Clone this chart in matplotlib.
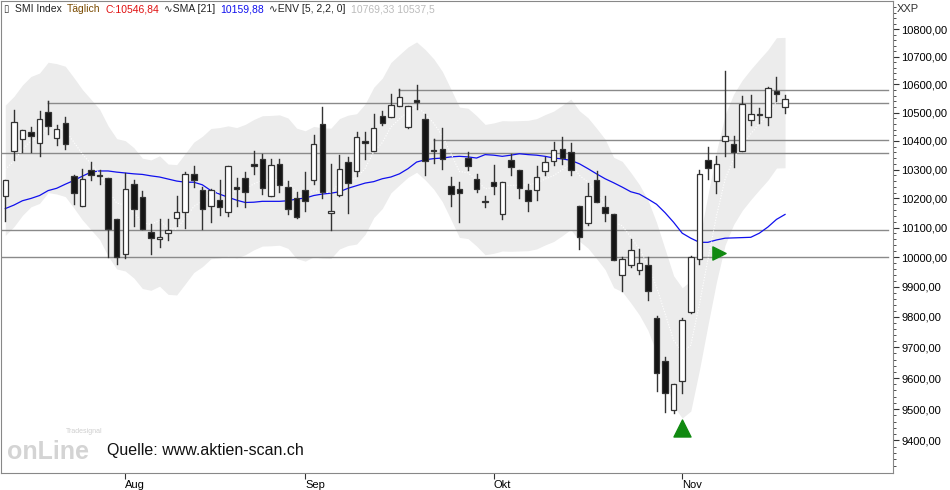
import matplotlib
matplotlib.use("Agg")
import matplotlib.pyplot as plt
from matplotlib.ticker import FixedLocator, FuncFormatter, NullFormatter
import numpy as np

opens = [10207,10365,10406,10433,10393,10501,10410,10463,10276,10174,10297,10282,10270,10128,10009,10250,10204,10085,10060,10081,
         10134,10155,10285,10229,10174,10194,10155,10239,10270,10320,10337,10207,10319,10239,10201,10230,10265,10460,10149,10212,
         10326,10295,10400,10365,10487,10484,10525,10449,10544,10476,10367,10373,10242,10231,10340,10268,10192,10258,10145,10332,
         10297,10230,10230,10295,10329,10373,10361,10174,10116,10265,10172,10145,9941,9974,9955,9974,9798,9656,9497,9591,
         9817,9995,10333,10260,10401,10390,10366,10474,10491,10484,10577,10521]
highs = [10262,10509,10438,10449,10507,10540,10455,10484,10280,10303,10326,10300,10270,10128,10288,10262,10225,10114,10128,10128,
         10209,10291,10311,10239,10233,10262,10314,10270,10291,10363,10353,10338,10338,10259,10221,10291,10422,10519,10318,10349,
         10344,10431,10433,10495,10507,10565,10585,10525,10597,10495,10408,10445,10274,10258,10361,10285,10209,10317,10256,10355,
         10297,10250,10312,10344,10396,10414,10393,10174,10253,10295,10207,10145,10000,10060,10028,10000,9804,9668,9582,9798,
         10003,10299,10378,10348,10647,10418,10560,10562,10517,10590,10627,10562]
lows = [10122,10334,10361,10361,10347,10425,10385,10371,10180,10174,10262,10250,9999,9976,9997,10104,10096,10011,10034,10058,
        10107,10099,10239,10096,10120,10143,10140,10174,10172,10283,10215,10207,10221,10145,10134,10157,10250,10200,10093,10210,
        10151,10276,10338,10365,10455,10484,10525,10445,10513,10280,10324,10303,10174,10118,10297,10221,10172,10215,10130,10280,
        10200,10157,10195,10280,10315,10320,10280,10029,10110,10186,10122,9989,9886,9968,9944,9857,9558,9491,9488,9552,
        9812,9978,10268,10218,10348,10308,10364,10457,10464,10457,10542,10498]
closes = [10262,10466,10438,10418,10477,10451,10443,10389,10218,10268,10280,10277,10095,9999,10233,10163,10096,10066,10067,10093,
          10155,10285,10262,10165,10230,10169,10314,10233,10221,10313,10236,10317,10245,10165,10137,10192,10390,10223,10157,10303,
          10254,10414,10394,10446,10463,10527,10557,10525,10536,10330,10363,10338,10215,10219,10312,10233,10186,10242,10256,10309,
          10236,10190,10274,10326,10367,10340,10299,10067,10209,10186,10149,9989,9995,10023,9981,9885,9615,9550,9582,9789,
          10000,10285,10306,10320,10418,10360,10530,10495,10495,10588,10566,10547]
sma21 = [10165,10177,10192,10200,10210,10227,10235,10249,10262,10277,10291,10295,10295,10291,10288,10285,10283,10278,10274,10267,
         10260,10256,10256,10247,10227,10215,10204,10194,10186,10187,10190,10190,10190,10192,10198,10201,10210,10215,10218,10223,
         10235,10244,10253,10258,10268,10274,10285,10303,10326,10334,10338,10340,10344,10346,10344,10340,10352,10350,10346,10350,
         10355,10352,10350,10346,10340,10337,10332,10320,10303,10285,10268,10254,10239,10223,10215,10198,10180,10151,10118,10081,
         10064,10050,10050,10058,10064,10065,10066,10067,10081,10102,10128,10145]
env_mid = [10300,10330,10370,10400,10412,10450,10445,10436,10396,10354,10320,10286,10228,10184,10177,10153,10117,10111,10125,10097,
           10095,10133,10172,10192,10219,10222,10228,10222,10233,10250,10263,10264,10266,10255,10220,10211,10226,10221,10220,10253,
           10265,10270,10304,10362,10394,10449,10477,10504,10522,10495,10462,10418,10356,10293,10289,10263,10233,10238,10246,10245,
           10246,10247,10253,10267,10279,10299,10321,10280,10256,10220,10182,10120,10106,10068,10027,9975,9900,9811,9723,9684,
           9707,9841,9992,10140,10266,10338,10387,10425,10460,10494,10537,10538]
env_pct = 2.2
hlines = [10580, 10534, 10403, 10358, 10093, 10000]
hline_start = [46, 5, 50, None, None, None]
month_labels = ["Aug", "Sep", "Okt", "Nov"]
month_idx = [14, 35, 57, 79]
buy_idx, buy_price = 79, 9440
sig_idx, sig_price = 83, 10015
yticks = list(range(9400, 10801, 100))
title_parts = [("SMI Index", '#222'), ("Täglich", '#7a4a00'), ("C:10546,84", '#e01010'),
               ("∿SMA [21]", '#222'), ("10159,88", '#1010ee'),
               ("∿ENV [5, 2,2, 0]", '#222'), ("10769,33 10537,5", '#bbbbbb')]

plt.rcParams['font.family'] = ['Liberation Sans', 'DejaVu Sans']
W, H = 950, 490
fig = plt.figure(figsize=(W/100, H/100), dpi=100)
ax = fig.add_axes([1/W, 1-473/H, 892/W, 472/H])
ax.set_yscale('log')
x = np.arange(len(closes))
ax.set_xlim(-0.5, 103.6)
ax.set_ylim(9297, 10903)

mid = np.array(env_mid, float)
ax.fill_between(x, mid*(1-env_pct/100), mid*(1+env_pct/100), color='#ececec', lw=0, zorder=1)

for y, s in zip(hlines, hline_start):
    xs = -0.5 if s is None else s
    ax.plot([xs, 103.0], [y, y], color='#8a8a8a', lw=1, zorder=2)
    if s is not None:
        ax.plot([s, s], [highs[s], y], color='#8a8a8a', lw=1, zorder=2)

ax.plot(x, sma21, color='#1010ee', lw=0.9, zorder=3)
ax.plot(x, env_mid, color='white', lw=0.8, ls=(0, (1, 1.5)), zorder=3)

for i in x:
    o, h, l, c = opens[i], highs[i], lows[i], closes[i]
    ax.plot([i, i], [l, h], color='#333333', lw=1, zorder=4)
    lo, hi = min(o, c), max(o, c)
    if hi - lo < 4:
        hi = lo + 4
    fc = 'white' if c >= o else '#151515'
    ax.add_patch(plt.Rectangle((i-0.32, lo), 0.64, hi-lo, facecolor=fc, edgecolor='#333333', lw=0.9, zorder=5))

ax.scatter([buy_idx], [buy_price], marker='^', s=150, color='#118a11', zorder=6)
ax.scatter([sig_idx+0.3], [sig_price], marker='>', s=90, color='#118a11', zorder=6)

ax.yaxis.tick_right()
ax.yaxis.set_major_locator(FixedLocator(yticks))
ax.yaxis.set_minor_locator(FixedLocator([v for v in range(9320, 10901, 20) if v % 100]))
ax.yaxis.set_major_formatter(FuncFormatter(lambda v, p: f"{v:.2f}".replace('.', ',')))
ax.yaxis.set_minor_formatter(NullFormatter())
ax.tick_params(axis='y', which='major', length=4, labelsize=8, color='#333', pad=2)
ax.tick_params(axis='y', which='minor', length=2, color='#333')
ax.set_xticks(month_idx)
ax.set_xticklabels(month_labels, fontsize=8, ha='left')
ax.tick_params(axis='x', length=4, pad=1, color='#333')
for sp in ax.spines.values():
    sp.set_color('#888888')

fig.text(3/W, 1-9/H, "▯", va='center', fontsize=7, color='#333', family='DejaVu Sans')
renderer = fig.canvas.get_renderer()
px = 15
for s, col in title_parts:
    t = fig.text(px/W, 1-9/H, s, va='center', fontsize=7.5, color=col,
                 family=['Liberation Sans', 'DejaVu Sans'])
    px += t.get_window_extent(renderer).width + 5
fig.text(897/W, 1-9/H, "XXP", va='center', fontsize=8, color='#333')

fig.text(7/W, 1-452/H, "onLine", va='center', fontsize=18, color='#d4d4d4', fontweight='bold')
fig.text(66/W, 1-431/H, "Tradesignal", va='center', fontsize=5, color='#cfcfcf')
fig.text(107/W, 1-450/H, "Quelle: www.aktien-scan.ch", va='center', fontsize=11.5, color='#111',
         bbox=dict(facecolor='white', edgecolor='none', pad=1.5))

fig.savefig("out.png", dpi=100, facecolor='white')
